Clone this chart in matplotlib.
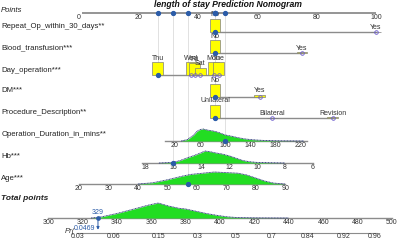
import numpy as np
import matplotlib
matplotlib.use('Agg')
import matplotlib.pyplot as plt
from matplotlib.patches import Rectangle

plt.rcParams['font.family'] = ['Liberation Sans', 'DejaVu Sans']

# ---- data ----
points_ticks = [0, 20, 40, 60, 80, 100]

repeat_levels = ['No', 'Yes']
repeat_pts = [45.8, 100.0]
repeat_freq = [0.97, 0.03]

blood_levels = ['No', 'Yes']
blood_pts = [45.8, 75.1]
blood_freq = [0.95, 0.04]

day_levels = ['Thu', 'Wed', 'Fri', 'Sat', 'Mon', 'Tue']
day_pts = [26.6, 37.8, 39.0, 40.8, 45.4, 47.0]
day_freq = [0.22, 0.22, 0.2, 0.12, 0.22, 0.22]

dm_levels = ['No', 'Yes']
dm_pts = [45.8, 60.9]
dm_freq = [0.85, 0.15]

proc_levels = ['Unilateral', 'Bilateral', 'Revision']
proc_pts = [45.8, 65.0, 85.5]
proc_freq = [0.93, 0.03, 0.04]

# continuous scales: value anchors -> points
dur_ticks = [20, 60, 100, 140, 180, 220]
dur_anchor = [20, 220]
dur_anchor_pts = [32.3, 74.7]
dur_range = [5, 230]
dur_dens_x = [30, 40, 50, 55, 60, 65, 70, 75, 80, 85, 90, 95, 100, 110, 120, 130, 140, 150, 160, 180, 200, 225]
dur_dens_y = [0, 0.12, 0.5, 0.8, 0.95, 1.0, 0.93, 0.88, 0.84, 0.78, 0.7, 0.6, 0.5, 0.4, 0.28, 0.18, 0.12, 0.08, 0.05, 0.02, 0.01, 0]

hb_ticks = [18, 16, 14, 12, 10, 8, 6]
hb_anchor = [18, 6]
hb_anchor_pts = [22.2, 78.8]
hb_range = [18.2, 6]
hb_dens_x = [17, 16, 15.5, 15, 14.5, 14, 13.7, 13.3, 13, 12.5, 12, 11.5, 11, 10.5, 10, 9, 8]
hb_dens_y = [0, 0.05, 0.2, 0.42, 0.62, 0.85, 1.0, 0.93, 0.85, 0.75, 0.6, 0.4, 0.2, 0.1, 0.05, 0.02, 0]

age_ticks = [20, 30, 40, 50, 60, 70, 80, 90]
age_anchor = [20, 90]
age_anchor_pts = [0.0, 69.4]
age_range = [20, 90]
age_dens_x = [40, 45, 50, 55, 58, 62, 66, 70, 74, 77, 80, 83, 86, 90]
age_dens_y = [0, 0.1, 0.35, 0.65, 0.8, 0.9, 1.0, 0.95, 0.9, 0.75, 0.5, 0.25, 0.08, 0]

total_ticks = [300, 320, 340, 360, 380, 400, 420, 440, 460, 480, 500]
total_anchor = [300, 500]
total_anchor_pts = [-10.4, 105.4]
total_dens_x = [325, 330, 340, 350, 358, 364, 370, 376, 380, 386, 392, 398, 404, 410, 420, 440]
total_dens_y = [0, 0.05, 0.3, 0.6, 0.85, 1.0, 0.8, 0.65, 0.6, 0.45, 0.3, 0.18, 0.08, 0.03, 0.01, 0]

pr_ticks = ['0.03', '0.06', '0.15', '0.3', '0.5', '0.7', '0.84', '0.92', '0.96']
pr_at_total = [317, 338, 364, 387, 409, 430, 451, 472, 490]

# patient
patient = {'repeat': 'No', 'blood': 'No', 'day': 'Thu', 'dm': 'No', 'proc': 'Unilateral',
           'dur': 100, 'hb': 16, 'age': 57}
patient_total = 329
patient_pr = '0.0469'

# ---- layout ----
BLUE = '#2b5ca8'
GRAY = '#8c8c8c'
GREEN = '#22dd22'
NAVY = '#1c2a6e'
TXT = '#333333'

fig = plt.figure(figsize=(4, 2.41), dpi=100)
ax = fig.add_axes([0, 0, 1, 1])
ax.set_xlim(-26.6, 108.1)
ax.set_ylim(241, 0)
ax.axis('off')

px = 2.97  # pixels per point

def lin(v, anchor, anchor_pts):
    return anchor_pts[0] + (np.asarray(v, float) - anchor[0]) * (anchor_pts[1] - anchor_pts[0]) / (anchor[1] - anchor[0])

ax.text(50.2, 4.5, 'length of stay Prediction Nomogram', ha='center', va='center',
        fontsize=6.2, fontweight='bold', fontstyle='italic', color='#111')

labels = [('Points', 10, 'italic', 'normal'),
          ('Repeat_Op_within_30_days**', 27, 'normal', 'normal'),
          ('Blood_transfusion***', 48, 'normal', 'normal'),
          ('Day_operation***', 70, 'normal', 'normal'),
          ('DM***', 91, 'normal', 'normal'),
          ('Procedure_Description**', 113, 'normal', 'normal'),
          ('Operation_Duration_in_mins**', 135, 'normal', 'normal'),
          ('Hb***', 157, 'normal', 'normal'),
          ('Age***', 179, 'normal', 'normal'),
          ('Total points', 199, 'italic', 'bold')]
for txt, y, st, wt in labels:
    ax.text(-26.2, y, txt, ha='left', va='center', fontsize=5.6 if wt == 'normal' else 6,
            fontstyle=st, fontweight=wt, color='#222')

# points axis
y_pts = 13
ax.plot([1, 100], [y_pts, y_pts], color=GRAY, lw=1.3, solid_capstyle='butt', zorder=2)
for t in points_ticks:
    ax.text(t, y_pts + 1, str(t), ha='center', va='top', fontsize=5, color=TXT)

rows = {}

def cat_row(key, y, levels, pts, freq):
    sel = patient[key]
    ax.plot([min(pts), max(pts)], [y, y], color=GRAY, lw=1.0, zorder=2)
    fmax = max(freq)
    for lv, p, f in zip(levels, pts, freq):
        h = f / fmax * 13
        ax.add_patch(Rectangle((p - 1.85, y - h), 3.7, h, facecolor='#ffff00',
                               edgecolor='#7f7f7f', lw=0.5, zorder=3))
        ax.text(p, y - h - 0.5, lv, ha='center', va='bottom', fontsize=5, color=TXT, zorder=5)
        if lv == sel:
            ax.plot(p, y, 'o', ms=2.8, color=BLUE, zorder=6)
            rows[key] = (p, y)
        else:
            ax.plot(p, y, 'o', ms=2.6, mfc='none', mec='#6a5acd', mew=0.6, zorder=6)

cat_row('repeat', 32, repeat_levels, repeat_pts, repeat_freq)
cat_row('blood', 53, blood_levels, blood_pts, blood_freq)
cat_row('day', 75, day_levels, day_pts, day_freq)
cat_row('dm', 97, dm_levels, dm_pts, dm_freq)
cat_row('proc', 118, proc_levels, proc_pts, proc_freq)

def cont_row(key, y, ticks, anchor, anchor_pts, rng, dx, dy, hmax=12):
    ax.plot(lin(rng, anchor, anchor_pts), [y, y], color=GRAY, lw=1.0, zorder=2)
    xs = lin(dx, anchor, anchor_pts)
    top = y - np.asarray(dy) * hmax
    ax.fill_between(xs, top, y, color=GREEN, lw=0, zorder=3)
    ax.plot(xs, top, color=NAVY, lw=0.6, ls=(0, (1.2, 0.6)), zorder=4)
    for t in ticks:
        ax.text(lin(t, anchor, anchor_pts), y + 1, str(t), ha='center', va='top', fontsize=5, color=TXT)
    if key in patient:
        p = float(lin(patient[key], anchor, anchor_pts))
        ax.plot(p, y, 'o', ms=2.8, color=BLUE, zorder=6)
        rows[key] = (p, y)

cont_row('dur', 141, dur_ticks, dur_anchor, dur_anchor_pts, dur_range, dur_dens_x, dur_dens_y)
cont_row('hb', 163, hb_ticks, hb_anchor, hb_anchor_pts, hb_range, hb_dens_x, hb_dens_y)
cont_row('age', 184, age_ticks, age_anchor, age_anchor_pts, age_range, age_dens_x, age_dens_y)
cont_row('total', 218, total_ticks, total_anchor, total_anchor_pts, [300, 500],
         total_dens_x, total_dens_y, hmax=15)

# guide lines from points axis
for key, (p, y) in rows.items():
    ax.plot([p, p], [y_pts, y], color='#dcdcdc', lw=0.6, zorder=1)
    ax.plot(p, y_pts, 'o', ms=2.8, color=BLUE, zorder=6)

# probability axis
y_pr = 233
pr_x = lin(pr_at_total, total_anchor, total_anchor_pts)
ax.plot([pr_x[0], pr_x[-1] + 0.8], [y_pr, y_pr], color=GRAY, lw=0.8, zorder=2)
for lab, xx in zip(pr_ticks, pr_x):
    ax.text(xx, y_pr + 0.5, lab, ha='center', va='top', fontsize=5, color=TXT)

pt = float(lin(patient_total, total_anchor, total_anchor_pts))
ax.text(pt, 216, str(patient_total), ha='center', va='bottom', fontsize=5, color=BLUE)
ax.annotate('', xy=(pt, y_pr - 0.5), xytext=(pt, 218),
            arrowprops=dict(arrowstyle='-|>', color=BLUE, lw=0.7, mutation_scale=4))
ax.plot(pt, 218, 'o', ms=2.4, color=BLUE, zorder=6)
ax.text(pt - 0.8, 229, patient_pr, ha='right', va='center', fontsize=5, color=BLUE)
ax.text(pt - 7.8, 231.5, 'Pr(', ha='right', va='center', fontsize=5.5, fontstyle='italic', color=TXT)

fig.savefig('out.png', dpi=100)
